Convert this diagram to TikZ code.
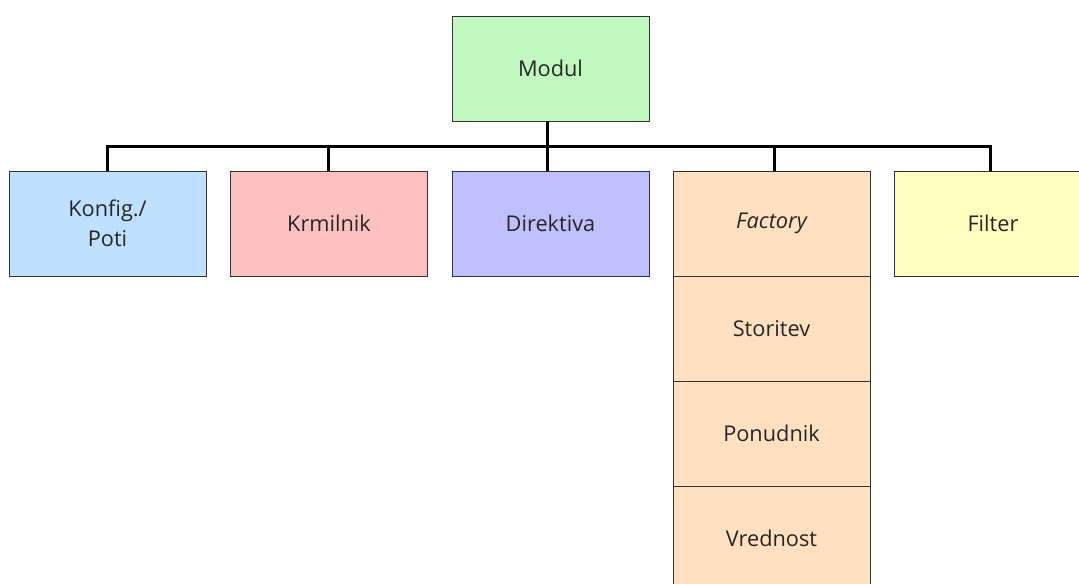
\documentclass[tikz,border=0pt]{standalone}
\usepackage{fontspec}
\setmainfont{Open Sans}
\definecolor{modulfill}{HTML}{C0F8C0}
\definecolor{konfigfill}{HTML}{C0E0FF}
\definecolor{krmilfill}{HTML}{FFC0C0}
\definecolor{direktfill}{HTML}{C0C0FF}
\definecolor{factfill}{HTML}{FFE0C0}
\definecolor{filterfill}{HTML}{FFFFC0}
\definecolor{edge}{HTML}{333333}
\begin{document}
\begin{tikzpicture}[x=0.75pt,y=-0.75pt,
  box/.style={draw=edge, line width=0.75pt, minimum width=147.75pt,
    minimum height=78.75pt, inner sep=0pt, outer sep=0pt, align=center,
    font=\fontsize{16.3}{22.5}\selectfont, text=black!85},
  conn/.style={line width=2.25pt, black, line join=miter}]
  \clip (0,0) rectangle (1079,583);
  \fill[white] (0,0) rectangle (1079,583);

  % root
  \node[box, fill=modulfill] (modul) at (550.5,68.5) {Modul};

  % first level
  \node[box, fill=konfigfill] (konfig) at (107.5,223.5) {Konfig./\\Poti};
  \node[box, fill=krmilfill] (krmilnik) at (329,223.5) {Krmilnik};
  \node[box, fill=direktfill] (direktiva) at (550.5,223.5) {Direktiva};
  \node[box, fill=factfill] (factory) at (771.5,223.5) {\itshape Factory};
  \node[box, fill=filterfill] (filter) at (993,223.5) {Filter};

  % stack below Factory
  \node[box, fill=factfill, anchor=north] (storitev) at (factory.south) {Storitev};
  \node[box, fill=factfill, anchor=north] (ponudnik) at (storitev.south) {Ponudnik};
  \node[box, fill=factfill, anchor=north] (vrednost) at (ponudnik.south) {Vrednost};

  % connectors
  \coordinate (bus) at (547,146);
  \draw[conn] ([xshift=-2.6pt]modul.south) -- ([xshift=-2.6pt]direktiva.north);
  \draw[conn] (konfig.north) |- (bus);
  \draw[conn] ([xshift=-0.75pt]krmilnik.north) |- (bus);
  \draw[conn] ([xshift=2.6pt]factory.north) |- (bus);
  \draw[conn] ([xshift=-2.25pt]filter.north) |- (bus);
\end{tikzpicture}
\end{document}
